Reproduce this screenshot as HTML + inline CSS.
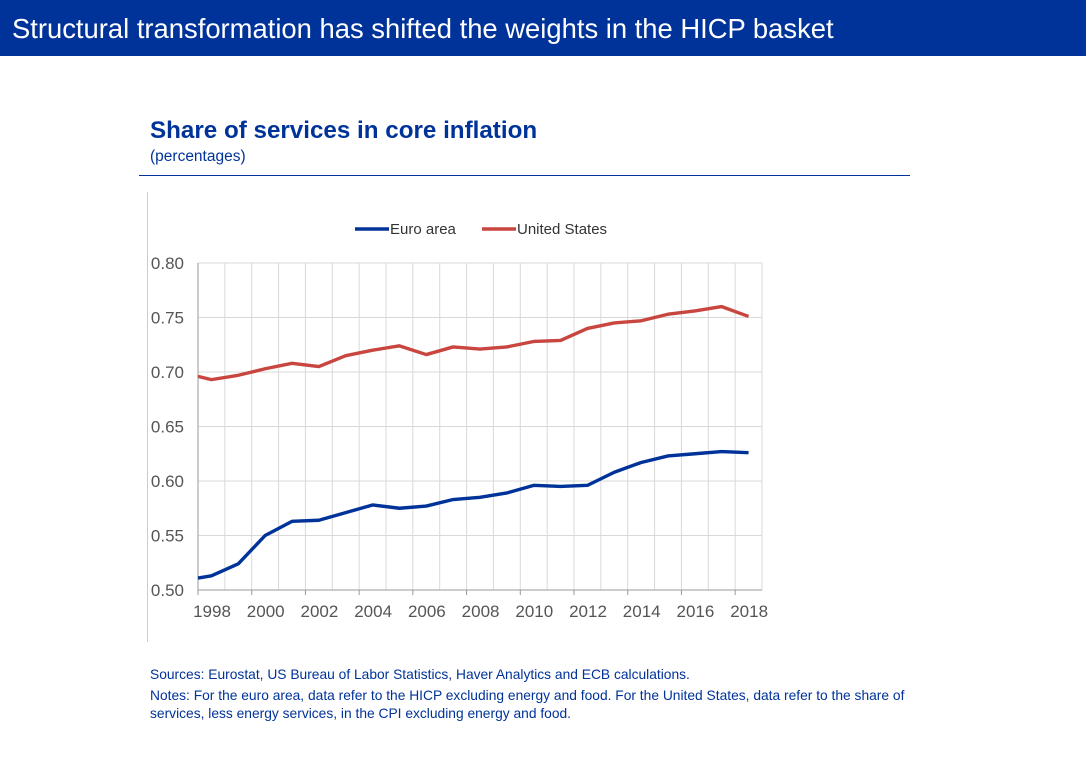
<!DOCTYPE html>
<html><head><meta charset="utf-8"><style>
body{margin:0;width:1086px;height:772px;background:#fff;font-family:"Liberation Sans",Arial,sans-serif;position:relative;overflow:hidden}
.bar{position:absolute;left:0;top:0;width:1086px;height:56px;background:#003399;color:#fff;font-size:27.4px;line-height:58px;padding-left:12px;box-sizing:border-box}
.t{position:absolute;color:#003399}
</style></head><body>
<div class="bar">Structural transformation has shifted the weights in the HICP basket</div>
<div class="t" style="left:150px;top:117px;font-size:24.2px;font-weight:bold">Share of services in core inflation</div>
<div class="t" style="left:150px;top:148px;font-size:15.5px">(percentages)</div>
<div style="position:absolute;left:139px;top:175px;width:771px;height:1px;background:#003399"></div>
<div style="position:absolute;left:147px;top:192px;width:1px;height:450px;background:#ccc"></div>
<svg id="chart" width="1086" height="772" style="position:absolute;left:0;top:0"></svg>
<div class="t" style="left:150px;top:667px;font-size:13.8px">Sources: Eurostat, US Bureau of Labor Statistics, Haver Analytics and ECB calculations.</div>
<div class="t" style="left:150px;top:687px;font-size:13.8px;line-height:18px;width:760px">Notes: For the euro area, data refer to the HICP excluding energy and food. For the United States, data refer to the share of services, less energy services, in the CPI excluding energy and food.</div>
<script>
const years=[1998.0,1998.5,1999.5,2000.5,2001.5,2002.5,2003.5,2004.5,2005.5,2006.5,2007.5,2008.5,2009.5,2010.5,2011.5,2012.5,2013.5,2014.5,2015.5,2016.5,2017.5,2018.5];
const euroArea=[0.511,0.513,0.524,0.550,0.563,0.564,0.571,0.578,0.575,0.577,0.583,0.585,0.589,0.596,0.595,0.596,0.608,0.617,0.623,0.625,0.627,0.626];
const unitedStates=[0.696,0.693,0.697,0.703,0.708,0.705,0.715,0.720,0.724,0.716,0.723,0.721,0.723,0.728,0.729,0.740,0.745,0.747,0.753,0.756,0.760,0.751];
const yTicks=[0.50,0.55,0.60,0.65,0.70,0.75,0.80];
const xTickYears=[1998,2000,2002,2004,2006,2008,2010,2012,2014,2016,2018];
const NS="http://www.w3.org/2000/svg";
const svg=document.getElementById('chart');
const X0=198,X1=762,Y0=590,Y1=263;
const x=v=>X0+(v-1998)*(X1-X0)/21;
const y=v=>Y0-(v-0.5)*(Y0-Y1)/0.3;
function mk(t,a){const e=document.createElementNS(NS,t);for(const k in a)e.setAttribute(k,a[k]);svg.appendChild(e);return e;}
for(let yr=1998;yr<=2019;yr++){
 const l=mk('line',{x1:x(yr),x2:x(yr),y1:Y1,y2:Y0,stroke:'#d9d9d9','stroke-width':1});
 
 
}
yTicks.forEach(v=>{
 const l=mk('line',{x1:X0,x2:X1,y1:y(v),y2:y(v),stroke:'#d9d9d9','stroke-width':1});
 
 
 const t=mk('text',{x:184,y:y(v)+6,'text-anchor':'end','font-size':17,fill:'#555','font-family':'Liberation Sans, sans-serif'});
 t.textContent=v.toFixed(2);
 
 
});
const ax=mk('line',{x1:X0,x2:X0,y1:Y1,y2:Y0,stroke:'#999'});


const bx=mk('line',{x1:X0,x2:X1,y1:Y0,y2:Y0,stroke:'#999'});


xTickYears.forEach(yr=>{
 const tk=mk('line',{x1:x(yr),x2:x(yr),y1:Y0,y2:Y0+5,stroke:'#999'});
 
 
 const t=mk('text',{x:x(yr)+14,y:Y0+27,'text-anchor':'middle','font-size':17,fill:'#555','font-family':'Liberation Sans, sans-serif'});
 t.textContent=yr;
 
 
});
function series(vals,col,name){
 const p=mk('polyline',{points:years.map((yr,i)=>x(yr)+','+y(vals[i])).join(' '),fill:'none',stroke:col,'stroke-width':3.4,'stroke-linejoin':'round'});
 
 
}
series(unitedStates,'#c9453f','united-states-line');
series(euroArea,'#003399','euro-area-line');
[['#003399','Euro area',355,'legend-euro-area'],['#c9453f','United States',482,'legend-united-states']].forEach(([c,lab,lx,nm])=>{
 const g=document.createElementNS(NS,'g');svg.appendChild(g);
 
 
 const l=document.createElementNS(NS,'line');
 l.setAttribute('x1',lx);l.setAttribute('x2',lx+34);l.setAttribute('y1',229);l.setAttribute('y2',229);
 l.setAttribute('stroke',c);l.setAttribute('stroke-width',3.4);g.appendChild(l);
 const t=document.createElementNS(NS,'text');
 t.setAttribute('x',lx+35);t.setAttribute('y',234);t.setAttribute('font-size',15);t.setAttribute('fill','#333');
 t.setAttribute('font-family','Liberation Sans, sans-serif');t.textContent=lab;g.appendChild(t);
});
</script>
</body></html>
